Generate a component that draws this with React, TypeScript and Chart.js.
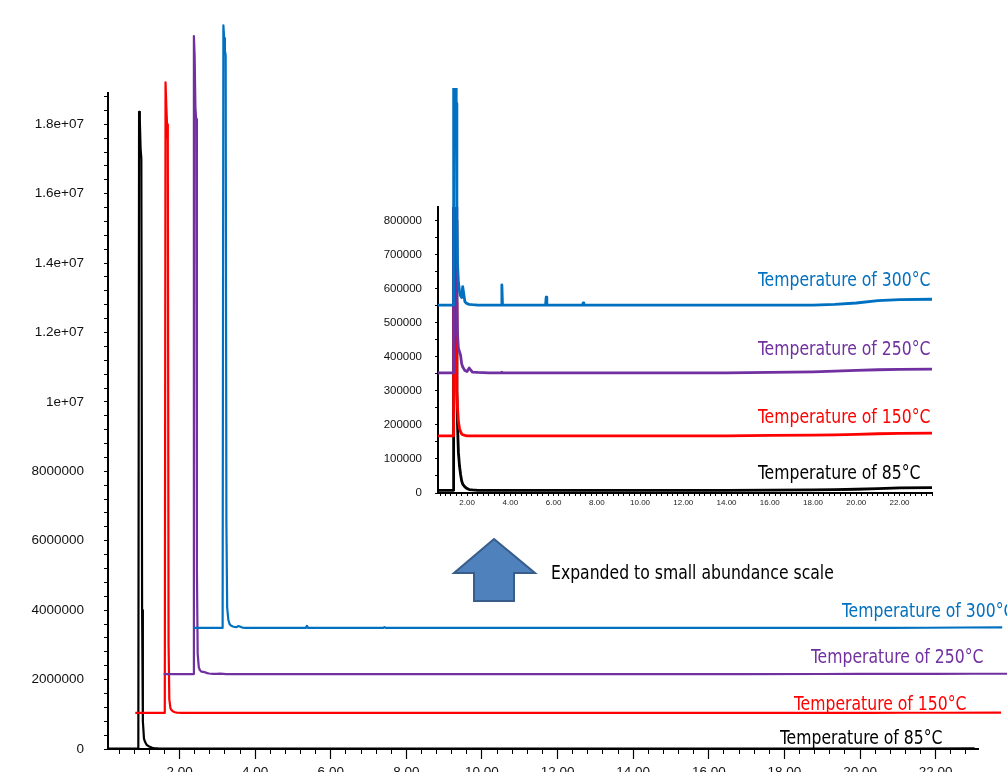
import React, { useEffect, useRef } from "react";
import { Chart, registerables } from "chart.js";

Chart.register(...registerables);

// ---------------- data ----------------
const seriesNames = [
  "Temperature of 85°C",
  "Temperature of 150°C",
  "Temperature of 250°C",
  "Temperature of 300°C",
];
const seriesColors = ["#000000", "#ff0000", "#7030a0", "#0070c0"];

// retention time (min)
const retentionTime = [
  0.6, 1.38, 1.4, 1.42, 1.44, 1.46, 1.48, 1.5, 1.53, 1.56, 1.6, 1.65, 1.7, 1.75, 1.8, 1.9, 2.0, 2.1, 2.25, 2.5,
  3.0, 3.58, 3.61, 3.64, 4.5, 5.63, 5.66, 5.69, 7.34, 7.37, 7.4, 8.0, 10.0, 12.0, 14.0, 16.0, 18.0, 19.0, 20.0,
  21.0, 22.0, 23.5,
];

// abundance (counts)
const abundance85 = [
  8000, 8000, 18360000, 18100000, 17300000, 17000000, 4000000, 800000, 300000, 200000, 120000, 80000, 55000,
  36000, 26000, 18000, 13000, 10000, 9000, 8000,
  8000, 8000, 8000, 8000, 8000, 8000, 8000, 8000, 8000, 8000, 8000, 8000, 8000, 8000, 8000, 8500, 9000, 10000,
  11000, 13000, 15000, 16000,
];
const abundance150 = [
  8000, 8000, 18180000, 17500000, 16970000, 16500000, 2000000, 400000, 140000, 90000, 50000, 30000, 20000,
  14000, 11000, 9000, 8000, 8000, 8000, 8000,
  8000, 8000, 8000, 8000, 8000, 8000, 8000, 8000, 8000, 8000, 8000, 8000, 8000, 8000, 8000, 9000, 10000, 11000,
  12000, 14000, 15000, 16000,
];
const abundance250 = [
  8000, 8000, 18390000, 17800000, 16340000, 16000000, 3000000, 600000, 200000, 120000, 80000, 70000, 60000,
  35000, 25000, 15000, 12000, 22000, 10000, 9000,
  8000, 8000, 10000, 8000, 8000, 8000, 8000, 8000, 8000, 8000, 8000, 8000, 8000, 8000, 8000, 9000, 11000, 13000,
  15000, 17000, 18000, 19000,
];
const abundance300 = [
  8000, 8000, 17370000, 17000000, 16650000, 16500000, 3000000, 600000, 250000, 130000, 75000, 50000, 35000,
  30000, 62000, 18000, 12000, 10000, 9000, 8000,
  8000, 8000, 67000, 8000, 8000, 8000, 31000, 8000, 8000, 14000, 8000, 8000, 8000, 8000, 8000, 8000, 8000, 10000,
  14000, 21000, 24000, 25000,
];

// display offsets of the stacked traces
const mainTimeOffset = [-0.47, 0.23, 0.98, 1.76];
const mainAbundanceOffset = [0, 1030000, 2150000, 3480000];
const insetAbundanceOffset = [0, 160000, 345000, 544000];

// tick labels
const mainXTickValues = [2, 4, 6, 8, 10, 12, 14, 16, 18, 20, 22];
const mainXTickLabels = ["2.00", "4.00", "6.00", "8.00", "10.00", "12.00", "14.00", "16.00", "18.00", "20.00", "22.00"];
const mainYTickValues = [0, 2000000, 4000000, 6000000, 8000000, 10000000, 12000000, 14000000, 16000000, 18000000];
const mainYTickLabels = ["0", "2000000", "4000000", "6000000", "8000000", "1e+07", "1.2e+07", "1.4e+07", "1.6e+07", "1.8e+07"];
const insetXTickValues = [2, 4, 6, 8, 10, 12, 14, 16, 18, 20, 22];
const insetXTickLabels = ["2.00", "4.00", "6.00", "8.00", "10.00", "12.00", "14.00", "16.00", "18.00", "20.00", "22.00"];
const insetYTickValues = [0, 100000, 200000, 300000, 400000, 500000, 600000, 700000, 800000];
const insetYTickLabels = ["0", "100000", "200000", "300000", "400000", "500000", "600000", "700000", "800000"];

// ---------------- helpers ----------------
const FONT = "'Liberation Sans', Arial, sans-serif";
const NARROW = "'DejaVu Sans Condensed', 'DejaVu Sans', sans-serif";

function stepTicks(min: number, max: number, step: number): number[] {
  const out: number[] = [];
  const start = Math.ceil(min / step - 1e-9);
  const end = Math.floor(max / step + 1e-9);
  for (let i = start; i <= end; i++) out.push(+(i * step).toFixed(6));
  return out;
}

function labelFor(values: number[], labels: string[], v: number): string {
  const i = values.findIndex((t) => Math.abs(t - v) < 1e-6);
  return i >= 0 ? labels[i] : "";
}

const abundances = [abundance85, abundance150, abundance250, abundance300];

const MAIN_X_MIN = 0.108;
const MAIN_X_MAX = 23.12;
const MAIN_Y_MAX = 18900000;
const INSET_X_MIN = 0.657;
const INSET_X_MAX = 23.5;
const INSET_Y_MAX = 840000;

function mainConfig(): any {
  const minorX = stepTicks(MAIN_X_MIN, MAIN_X_MAX, 0.4);
  const minorY = stepTicks(0, MAIN_Y_MAX, 400000);
  return {
    type: "line",
    data: {
      datasets: abundances.map((arr, i) => ({
        label: seriesNames[i],
        data: retentionTime.map((t, k) => ({ x: t + mainTimeOffset[i], y: arr[k] + mainAbundanceOffset[i] })),
        borderColor: seriesColors[i],
        backgroundColor: seriesColors[i],
        borderWidth: 2.2,
        borderJoinStyle: "round",
        pointRadius: 0,
        tension: 0,
        fill: false,
        clip: false,
        order: 3 - i,
        xAxisID: "x",
        yAxisID: "y",
      })),
    },
    options: {
      responsive: false,
      animation: false,
      devicePixelRatio: 1,
      events: [],
      layout: { padding: { top: 93, right: 29, left: 0, bottom: 0 } },
      plugins: { legend: { display: false }, tooltip: { enabled: false }, title: { display: false } },
      scales: {
        x: {
          type: "linear",
          position: "bottom",
          weight: 1,
          min: MAIN_X_MIN,
          max: MAIN_X_MAX,
          afterBuildTicks: (s: any) => {
            s.ticks = mainXTickValues.map((v) => ({ value: v }));
          },
          afterFit: (s: any) => {
            s.height = 51;
          },
          grid: { display: true, drawOnChartArea: false, drawTicks: true, tickLength: 10, tickColor: "#000", tickWidth: 1.2 },
          border: { display: true, color: "#000", width: 2 },
          ticks: {
            autoSkip: false,
            maxRotation: 0,
            minRotation: 0,
            padding: 5,
            color: "#111",
            font: { family: FONT, size: 13.5 },
            callback: (v: number) => labelFor(mainXTickValues, mainXTickLabels, v),
          },
        },
        xMinor: {
          type: "linear",
          position: "bottom",
          weight: 0,
          min: MAIN_X_MIN,
          max: MAIN_X_MAX,
          afterBuildTicks: (s: any) => {
            s.ticks = minorX.map((v) => ({ value: v }));
          },
          afterFit: (s: any) => {
            s.height = 0;
          },
          grid: { display: true, drawOnChartArea: false, drawTicks: true, tickLength: 5, tickColor: "#000", tickWidth: 1 },
          border: { display: false },
          ticks: { display: false, autoSkip: false },
        },
        y: {
          type: "linear",
          position: "left",
          min: 0,
          max: MAIN_Y_MAX,
          afterBuildTicks: (s: any) => {
            s.ticks = minorY.map((v) => ({ value: v }));
          },
          afterFit: (s: any) => {
            s.width = 108;
          },
          grid: { display: true, drawOnChartArea: false, drawTicks: true, tickLength: 4, tickColor: "#000", tickWidth: 1 },
          border: { display: true, color: "#000", width: 2 },
          ticks: {
            autoSkip: false,
            padding: 20,
            color: "#111",
            font: { family: FONT, size: 13.5 },
            callback: (v: number) => labelFor(mainYTickValues, mainYTickLabels, v),
          },
        },
      },
    },
  };
}

function insetConfig(): any {
  const minorX = stepTicks(INSET_X_MIN, INSET_X_MAX, 0.25);
  const minorY = stepTicks(0, INSET_Y_MAX, 50000);
  return {
    type: "line",
    data: {
      datasets: abundances.map((arr, i) => ({
        label: seriesNames[i],
        data: retentionTime.map((t, k) => ({ x: t, y: arr[k] + insetAbundanceOffset[i] })),
        borderColor: seriesColors[i],
        backgroundColor: seriesColors[i],
        borderWidth: 2.8,
        borderJoinStyle: "round",
        pointRadius: 0,
        tension: 0,
        fill: false,
        clip: i === 3 ? { left: 0, right: 2, bottom: 2, top: 200 } : { left: 0, right: 2, bottom: 2, top: 0 },
        order: 3 - i,
      })),
    },
    options: {
      responsive: false,
      animation: false,
      devicePixelRatio: 1,
      events: [],
      layout: { padding: { top: 119, right: 18, left: 0, bottom: 0 } },
      plugins: { legend: { display: false }, tooltip: { enabled: false }, title: { display: false } },
      scales: {
        x: {
          type: "linear",
          position: "bottom",
          min: INSET_X_MIN,
          max: INSET_X_MAX,
          afterBuildTicks: (s: any) => {
            s.ticks = minorX.map((v) => ({ value: v }));
          },
          afterFit: (s: any) => {
            s.height = 25;
          },
          grid: { display: true, drawOnChartArea: false, drawTicks: true, tickLength: 3, tickColor: "#000", tickWidth: 1 },
          border: { display: true, color: "#000", width: 2 },
          ticks: {
            autoSkip: false,
            maxRotation: 0,
            minRotation: 0,
            padding: 2,
            color: "#222",
            font: { family: FONT, size: 8 },
            callback: (v: number) => labelFor(insetXTickValues, insetXTickLabels, v),
          },
        },
        y: {
          type: "linear",
          position: "left",
          min: 0,
          max: INSET_Y_MAX,
          afterBuildTicks: (s: any) => {
            s.ticks = minorY.map((v) => ({ value: v }));
          },
          afterFit: (s: any) => {
            s.width = 68;
          },
          grid: { display: true, drawOnChartArea: false, drawTicks: true, tickLength: 3, tickColor: "#000", tickWidth: 1 },
          border: { display: true, color: "#000", width: 2 },
          ticks: {
            autoSkip: false,
            padding: 13,
            color: "#111",
            font: { family: FONT, size: 11.5 },
            callback: (v: number) => labelFor(insetYTickValues, insetYTickLabels, v),
          },
        },
      },
    },
  };
}

// ---------------- component ----------------
const LABEL_SIZE = 20;
const LABEL_SQUEEZE = 0.87;

function CondensedText(props: { text: string; color: string; left: number; cy: number }) {
  return (
    <div
      style={{
        position: "absolute",
        left: props.left,
        top: props.cy - LABEL_SIZE * 0.49,
        fontFamily: NARROW,
        fontSize: LABEL_SIZE,
        lineHeight: 1,
        color: props.color,
        whiteSpace: "nowrap",
        transform: `scaleX(${LABEL_SQUEEZE})`,
        transformOrigin: "0 50%",
      }}
    >
      {props.text}
    </div>
  );
}

export default function App() {
  const mainRef = useRef<HTMLCanvasElement>(null);
  const insetRef = useRef<HTMLCanvasElement>(null);

  useEffect(() => {
    const main = new Chart(mainRef.current as HTMLCanvasElement, mainConfig());
    const inset = new Chart(insetRef.current as HTMLCanvasElement, insetConfig());
    return () => {
      main.destroy();
      inset.destroy();
    };
  }, []);

  const mainLabelPos = [
    { left: 780, cy: 737 },
    { left: 794, cy: 703 },
    { left: 811, cy: 656 },
    { left: 842, cy: 610 },
  ];
  const insetLabelPos = [
    { left: 758, cy: 472 },
    { left: 758, cy: 416 },
    { left: 758, cy: 348 },
    { left: 758, cy: 279 },
  ];

  return (
    <div
      style={{
        position: "absolute",
        left: 0,
        top: 0,
        width: 1007,
        height: 772,
        overflow: "hidden",
        background: "#ffffff",
      }}
    >
      <canvas ref={mainRef} width={1007} height={800} style={{ position: "absolute", left: 0, top: 0, width: 1007, height: 800 }} />
      <canvas ref={insetRef} width={580} height={430} style={{ position: "absolute", left: 370, top: 88, width: 580, height: 430 }} />
      <svg width={1007} height={772} style={{ position: "absolute", left: 0, top: 0, pointerEvents: "none" }}>
        <polygon
          points="494,539 535,573 514,573 514,601 474,601 474,573 454,573"
          fill="#4f81bd"
          stroke="#385d8a"
          strokeWidth={2}
          strokeLinejoin="miter"
        />
      </svg>
      <CondensedText text="Expanded to small abundance scale" color="#000000" left={551} cy={572} />
      {seriesNames.map((name, i) => (
        <CondensedText key={"m" + i} text={name} color={seriesColors[i]} left={mainLabelPos[i].left} cy={mainLabelPos[i].cy} />
      ))}
      {seriesNames.map((name, i) => (
        <CondensedText key={"i" + i} text={name} color={seriesColors[i]} left={insetLabelPos[i].left} cy={insetLabelPos[i].cy} />
      ))}
    </div>
  );
}
